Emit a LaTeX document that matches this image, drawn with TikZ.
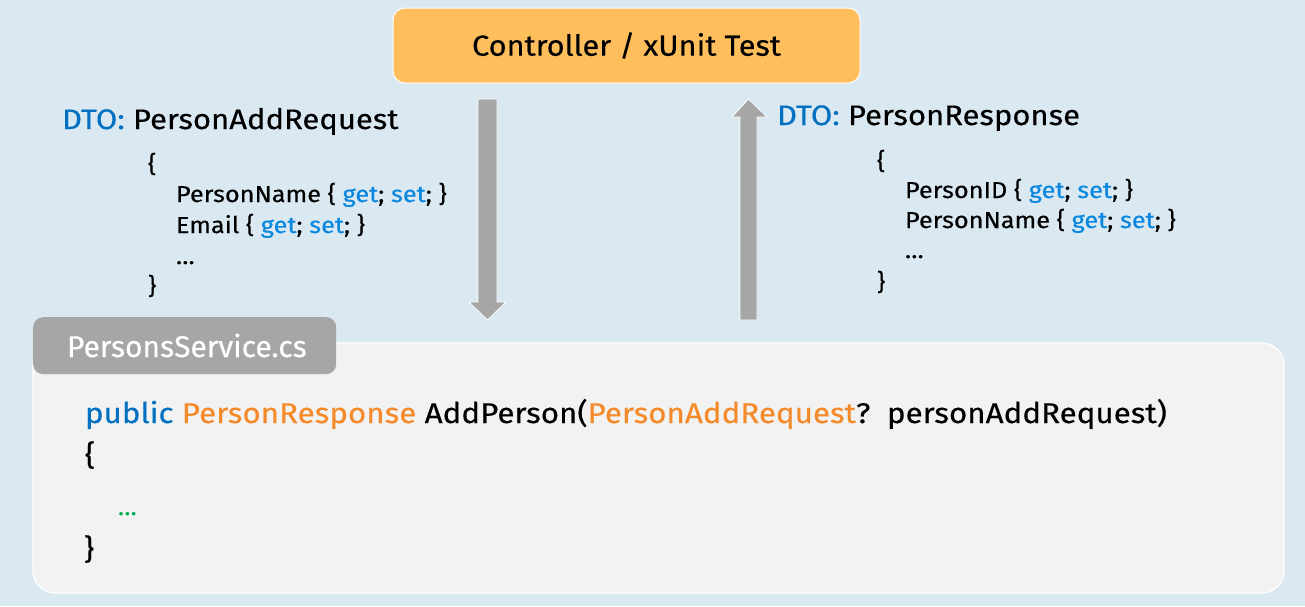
\documentclass[tikz,border=0pt]{standalone}
\usepackage{fontspec}
\setmainfont{Fira Sans}[FakeBold=0.35]
\newfontfamily\widefont{Fira Sans}[FakeStretch=1.1,FakeBold=0.35]
\newfontfamily\midfont{Fira Sans}[FakeStretch=1.06,FakeBold=0.35]
\usetikzlibrary{positioning}
\definecolor{bgc}{HTML}{DAE8F1}
\definecolor{orangebox}{HTML}{FFBE5C}
\definecolor{panelc}{HTML}{F2F2F2}
\definecolor{tabc}{HTML}{A6A6A6}
\definecolor{arrowc}{HTML}{A6A6A6}
\definecolor{dtoblue}{HTML}{0070C0}
\definecolor{kwblue}{HTML}{0A88E0}
\definecolor{typeorange}{HTML}{F58A2A}
\definecolor{dotgreen}{HTML}{00B050}
\tikzset{
  txt/.style={anchor=base west, inner sep=0pt, outer sep=0pt},
  dtotitle/.style={txt, font=\widefont\fontsize{28.2}{32}\selectfont},
  propline/.style={txt, font=\widefont\fontsize{23}{26}\selectfont},
  codeline/.style={txt, font=\widefont\fontsize{28.5}{34}\selectfont},
  blockarrow/.style={fill=arrowc, draw=white, line width=0.8pt},
}
\newcommand{\kw}[1]{\textcolor{kwblue}{#1}}
\begin{document}
\begin{tikzpicture}[x=1pt,y=-1pt]
\useasboundingbox (0,0) rectangle (1305,606);
\fill[bgc] (0,0) rectangle (1305,606);

% Controller box
\node[draw=white, line width=1pt, fill=orangebox, rounded corners=12pt,
      minimum width=467pt, minimum height=75pt, inner sep=0pt,
      font=\midfont\fontsize{29}{34}\selectfont] (ctrl) at (626.5,45.5) {Controller / xUnit Test};

% Bottom panel
\draw[fill=panelc, draw=white, line width=1.2pt, rounded corners=22pt] (33,343) rectangle (1284,593);
\node[fill=tabc, rounded corners=10pt, minimum width=303pt, minimum height=57pt, inner sep=0pt,
      anchor=north west] (tab) at (33,317) {};
\node[txt, text=white, font=\fontsize{30}{36}\selectfont] (tabtxt) at (67,357) {PersonsService.cs};

% Down arrow
\draw[blockarrow] (478,99) -- (497,99) -- (497,302) -- (506,302) -- (487.5,320) -- (469,302) -- (478,302) -- cycle;
% Up arrow
\draw[blockarrow] (740,320) -- (757,320) -- (757,117) -- (767,117) -- (748.5,99) -- (732,117) -- (740,117) -- cycle;

% Left DTO
\node[dtotitle] (ltitle) at (62,129) {\textcolor{dtoblue}{DTO:}\ PersonAddRequest};
\node[propline] (lb1) at (148,172) {\{};
\node[propline] (lp1) at (176,202) {PersonName \{ \kw{get}; \kw{set}; \}};
\node[propline] (lp2) at (176,233) {Email \{ \kw{get}; \kw{set}; \}};
\node[propline] (lp3) at (176,264) {…};
\node[propline] (lb2) at (148,294) {\}};

% Right DTO
\node[dtotitle] (rtitle) at (777,125) {\textcolor{dtoblue}{DTO:}\ PersonResponse};
\node[propline] (rb1) at (877,169) {\{};
\node[propline] (rp1) at (905,198) {PersonID \{ \kw{get}; \kw{set}; \}};
\node[propline] (rp2) at (905,228) {PersonName \{ \kw{get}; \kw{set}; \}};
\node[propline] (rp3) at (905,258) {…};
\node[propline] (rb2) at (877,290) {\}};

% Code
\node[codeline] (c1) at (85,423) {\textcolor{dtoblue}{public} \textcolor{typeorange}{PersonResponse} AddPerson(\textcolor{typeorange}{PersonAddRequest}?\ \ personAddRequest)};
\node[codeline] (c2) at (85,465) {\{};
\node[propline, text=dotgreen] (c3) at (118,515) {…};
\node[codeline] (c4) at (84,559) {\}};
\end{tikzpicture}
\end{document}
